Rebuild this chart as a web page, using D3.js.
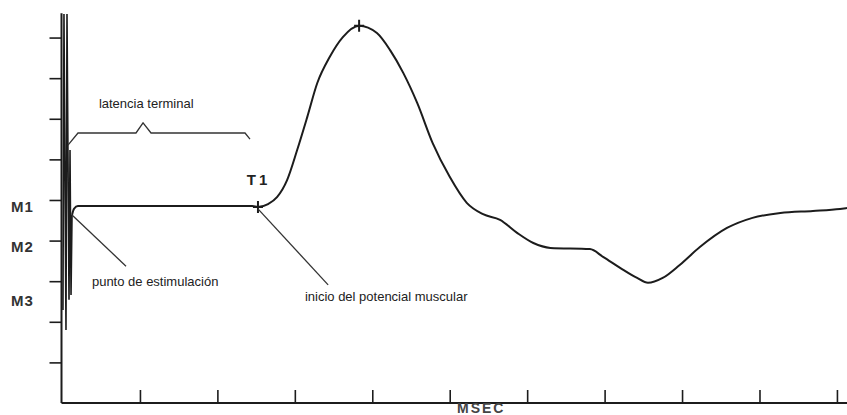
<!DOCTYPE html>
<html>
<head>
<meta charset="utf-8">
<script src="https://cdn.jsdelivr.net/npm/d3@7"></script>
<style>
  body { margin: 0; background: #fff; }
  svg { display: block; }
</style>
</head>
<body>
<svg width="847" height="415"></svg>
<script>
// time in ms, amplitude in arbitrary units (one y tick = 1 unit)
var artifactX = [0.006, 0.019, 0.045, 0.058, 0.084, 0.097, 0.11, 0.123];
var artifactY = [2.29, 9.58, 1.80, 9.58, 2.54, 6.23, 2.66, 4.63];

var traceX = [0.123, 0.148, 0.2, 0.5, 1.0, 1.5, 2.0, 2.3, 2.45, 2.524, 2.654, 2.77, 2.90, 3.03, 3.16, 3.29, 3.45, 3.62, 3.83,
              4.06, 4.23, 4.40, 4.58, 4.78, 5.00, 5.22, 5.43, 5.65, 5.87, 6.08, 6.30, 6.81, 6.98, 7.20,
              7.42, 7.56, 7.75, 7.97, 8.23, 8.58, 8.91, 9.27, 9.69, 10.04, 10.13];
var traceY = [4.63, 4.78, 4.85, 4.85, 4.85, 4.85, 4.85, 4.85, 4.85, 4.83, 4.90, 5.07, 5.49, 6.23, 7.04, 7.88, 8.52, 9.01, 9.29,
              9.11, 8.69, 8.13, 7.39, 6.40, 5.57, 4.93, 4.65, 4.51, 4.19, 3.94, 3.82, 3.79, 3.60, 3.33,
              3.08, 2.96, 3.08, 3.40, 3.84, 4.31, 4.56, 4.68, 4.73, 4.78, 4.80];

var markerX = [2.524, 3.83];
var markerY = [4.83, 9.29];

var xTicks = [1, 2, 3, 4, 5, 6, 7, 8, 9, 10];
var yTicks = [1, 2, 3, 4, 5, 6, 7, 8, 9];

var levelLabels = ["M1", "M2", "M3"];
var levelY = [4.83, 3.84, 2.51];

// brace over the terminal latency
var braceX = [0.071, 0.2, 0.949, 1.04, 1.143, 2.357, 2.421];
var braceY = [6.35, 6.65, 6.65, 6.90, 6.65, 6.65, 6.50];

var noteText = ["latencia terminal", "punto de estimulación", "inicio del potencial muscular"];
var noteX = [0.47, 0.38, 3.13];
var noteY = [7.27, 2.88, 2.51];

// pointer lines: [x1, y1, x2, y2]
var pointers = [[0.123, 4.63, 0.82, 3.37], [2.524, 4.78, 3.43, 2.91]];

var svg = d3.select('svg'),
    width = +svg.attr("width"),
    height = +svg.attr("height");

var ink = "#1c1c1c";

var xScale = d3.scaleLinear().domain([0, 10.13]).range([62.5, 847]);
var yScale = d3.scaleLinear().domain([0, 9.6]).range([403, 13.2]);

// axes
var xAxis = d3.axisBottom(xScale).tickValues(xTicks).tickSize(-13).tickFormat("");
svg.append('g')
    .attr('transform', `translate(0,${yScale(0)})`)
    .call(xAxis)
    .call(g => g.select('.domain').attr('d', `M${xScale(0) - 1},0H${width}`))
    .call(g => g.selectAll('line').attr('stroke', ink).attr('stroke-width', 1.6))
    .call(g => g.select('.domain').attr('stroke', ink).attr('stroke-width', 2));

var yAxis = d3.axisLeft(yScale).tickValues(yTicks).tickSize(12).tickFormat("");
svg.append('g')
    .attr('transform', `translate(${xScale(0) - 1},0)`)
    .call(yAxis)
    .call(g => g.select('.domain').attr('d', `M0,${yScale(9.6)}V${yScale(0)}`))
    .call(g => g.selectAll('line').attr('stroke', ink).attr('stroke-width', 1.6))
    .call(g => g.select('.domain').attr('stroke', ink).attr('stroke-width', 2));

// stimulus artifact
var artifact = d3.zip(artifactX, artifactY);
svg.append('path')
    .attr('d', d3.line().x(d => xScale(d[0])).y(d => yScale(d[1]))(artifact))
    .attr('fill', 'none')
    .attr('stroke', ink)
    .attr('stroke-width', 1.6);

// muscle response trace
var trace = d3.zip(traceX, traceY);
var lineGenerator = d3.line()
    .curve(d3.curveMonotoneX)
    .x(d => xScale(d[0]))
    .y(d => yScale(d[1]));

svg.append('path')
    .attr('d', lineGenerator(trace))
    .attr('fill', 'none')
    .attr('stroke', ink)
    .attr('stroke-width', 2);

// plus markers
d3.zip(markerX, markerY).forEach(function (m) {
    var cx = xScale(m[0]), cy = yScale(m[1]);
    svg.append('path')
        .attr('d', `M${cx - 5},${cy}H${cx + 5}M${cx},${cy - 6}V${cy + 6}`)
        .attr('stroke', ink)
        .attr('stroke-width', 2);
});

// brace
svg.append('path')
    .attr('d', d3.line().x(d => xScale(d[0])).y(d => yScale(d[1]))(d3.zip(braceX, braceY)))
    .attr('fill', 'none')
    .attr('stroke', '#333')
    .attr('stroke-width', 1.3);

// pointers
svg.selectAll('line.pointer')
    .data(pointers)
    .enter().append('line')
    .attr('class', 'pointer')
    .attr('x1', d => xScale(d[0]))
    .attr('y1', d => yScale(d[1]))
    .attr('x2', d => xScale(d[2]))
    .attr('y2', d => yScale(d[3]))
    .attr('stroke', '#333')
    .attr('stroke-width', 1.3);

// notes
svg.selectAll('text.note')
    .data(noteText)
    .enter().append('text')
    .attr('class', 'note')
    .attr('x', (d, i) => xScale(noteX[i]))
    .attr('y', (d, i) => yScale(noteY[i]))
    .attr('font-family', "Liberation Sans, Arial, sans-serif")
    .attr('font-size', 13)
    .attr('fill', '#222')
    .text(d => d);

// M1..M3 level labels
svg.selectAll('text.level')
    .data(levelLabels)
    .enter().append('text')
    .attr('class', 'level')
    .attr('x', 11)
    .attr('y', (d, i) => yScale(levelY[i]))
    .attr('dy', '0.36em')
    .attr('font-family', "Liberation Sans, Arial, sans-serif")
    .attr('font-weight', 'bold')
    .attr('font-size', 15)
    .attr('letter-spacing', 1)
    .attr('fill', '#333')
    .text(d => d);

svg.append('text')
    .attr('x', xScale(2.38))
    .attr('y', yScale(5.37))
    .attr('font-family', "Liberation Sans, Arial, sans-serif")
    .attr('font-weight', 'bold')
    .attr('font-size', 15)
    .attr('letter-spacing', 3)
    .attr('fill', '#222')
    .text('T1');

svg.append('text')
    .attr('x', 457)
    .attr('y', 413)
    .attr('font-family', "Liberation Sans, Arial, sans-serif")
    .attr('font-weight', 'bold')
    .attr('font-size', 14)
    .attr('letter-spacing', 2)
    .attr('fill', '#444')
    .text('MSEC');
</script>
</body>
</html>
